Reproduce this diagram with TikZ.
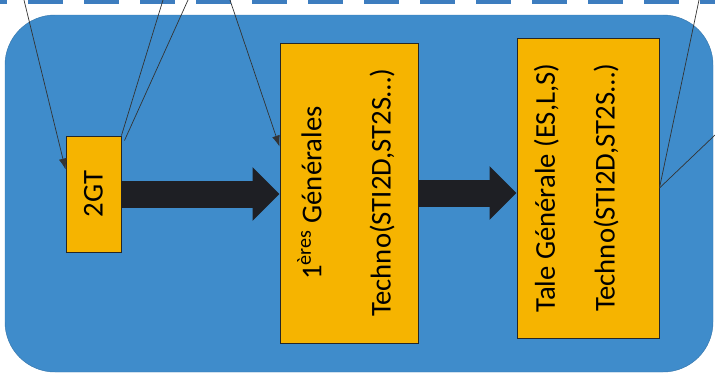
\documentclass[tikz,border=0pt]{standalone}
\usepackage{fontspec}
\setmainfont{Carlito}
\usepackage{graphicx}
\usetikzlibrary{shapes,arrows,arrows.meta,positioning,calc}

\definecolor{fond}{HTML}{3F8CCB}
\definecolor{jaune}{HTML}{F6B400}
\definecolor{fleche}{HTML}{1E1F24}
\definecolor{bande}{HTML}{3D7DBF}

\tikzset{
  classe/.style={draw=black!85, line width=0.8pt, fill=jaune, inner sep=0pt,
    font=\fontsize{24.5}{29}\selectfont},
  lien/.style={draw=black!80, line width=0.6pt},
  pointe/.style={-{Latex[length=0.33cm, width=0.24cm]}},
  gros/.style={draw=fleche, line width=0.81cm, -{Triangle[length=0.81cm, width=1.56cm]}}
}

\begin{document}
\begin{tikzpicture}[x=0.03cm, y=-0.03cm]
\useasboundingbox (0,0) rectangle (715,383);

% bande en pointilles
\draw[bande, line width=0.12cm, dash pattern=on 1.05cm off 0.63cm] (-28,2) -- (720,2);

% fond bleu
\draw[fill=fond, draw=fond!85!black, rounded corners=1.5cm] (5,15) rectangle (713,372);

% les classes
\node[classe, minimum width=1.65cm, minimum height=3.48cm] (gt) at (93.5,194) {\rotatebox{90}{2GT}};
\node[classe, minimum width=4.14cm, minimum height=9cm] (prem) at (349,193) {\rotatebox{90}{\begin{tabular}{c}
1\textsuperscript{ères} Générales\\[30pt]
Techno(STI2D,ST2S…)
\end{tabular}}};
\node[classe, minimum width=4.26cm, minimum height=9cm] (tale) at (588,188) {\rotatebox{90}{\begin{tabular}{c}
Tale Générale (ES,L,S)\\[22pt]
Techno(STI2D,ST2S…)\\[17pt]
\end{tabular}}};

% grosses fleches
\draw[gros] (gt.east) -- (gt.east -| prem.west);
\draw[gros] (prem.east) -- (prem.east -| tale.west);

% liens vers le haut
\coordinate (h1) at (24,0);
\coordinate (h2) at (163,0);
\coordinate (h3) at (188,0);
\coordinate (h4) at (230,0);
\coordinate (h5) at (699,0);
\coordinate (h6) at (715,135);

\draw[lien, pointe] (h1) -- ($(gt.north west)+(0,34)$);
\draw[lien] (h2) -- (gt.north east);
\draw[lien] (h3) -- ($(gt.north east)+(3,5)$);
\draw[lien, pointe] (h4) -- ($(prem.north west)+(0,104)$);
\draw[lien] (h5) -- (tale.east);
\draw[lien] (h6) -- (tale.east);

\end{tikzpicture}
\end{document}
